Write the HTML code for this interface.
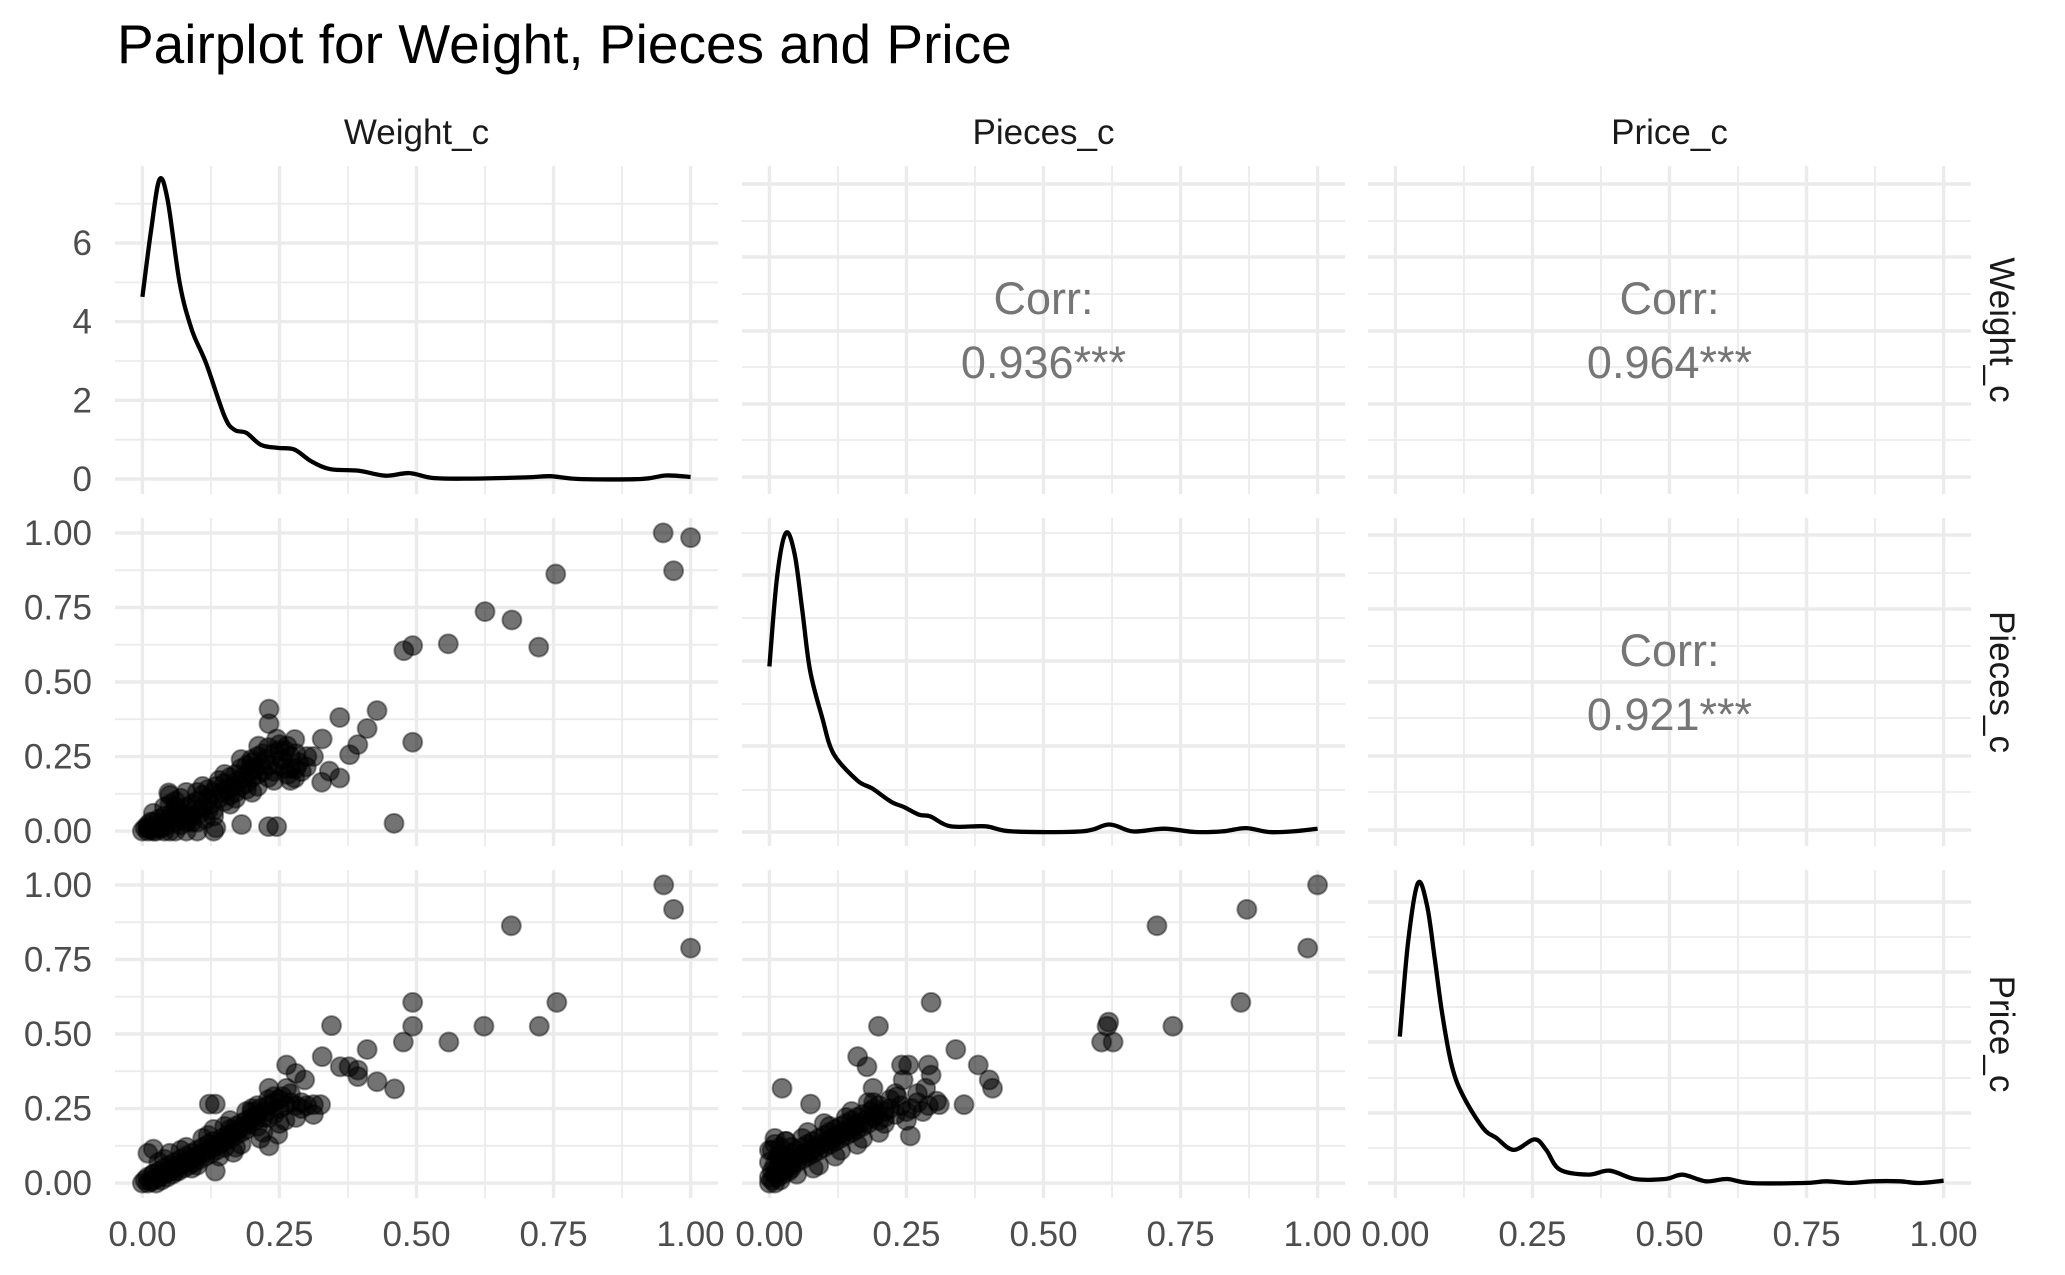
<!DOCTYPE html>
<html><head><meta charset="utf-8"><title>Pairplot</title>
<style>
html,body{margin:0;padding:0;background:#fff;}
svg{display:block;font-family:"Liberation Sans",Arial,sans-serif;}
</style></head>
<body>
<svg id="chart" width="2065" height="1275" viewBox="0 0 2065 1275" xmlns="http://www.w3.org/2000/svg">
<rect width="2065" height="1275" fill="#fff"/>
<text x="117" y="63" font-size="55" fill="#000">Pairplot for Weight, Pieces and Price</text>
<g id="grid"></g>
<g id="marks"></g>
<g id="labels"></g>
</svg>
<script>
// ---- data ----
const varNames = ["Weight_c", "Pieces_c", "Price_c"];
const xTickLabels = ["0.00", "0.25", "0.50", "0.75", "1.00"];
const xTickValues = [0, 0.25, 0.5, 0.75, 1];
const densTickLabels = ["0", "2", "4", "6"];
const densTickValues = [0, 2, 4, 6];
const corrValues = ["0.936***", "0.964***", "0.921***"];

const weightDensX = [0,0.016,0.031,0.046,0.068,0.09,0.116,0.15,0.168,0.19,0.216,0.247,0.277,0.308,0.343,0.395,0.443,0.487,0.53,0.596,0.70,0.744,0.796,0.91,0.955,1.0];
const weightDensY = [4.63,6.34,7.61,7.1,4.98,3.8,2.95,1.59,1.25,1.17,0.87,0.79,0.75,0.45,0.25,0.21,0.085,0.15,0.025,0.01,0.04,0.07,0,0,0.09,0.05];
const piecesDensX = [0,0.014,0.030,0.046,0.060,0.074,0.096,0.117,0.16,0.188,0.223,0.245,0.273,0.294,0.33,0.394,0.443,0.57,0.62,0.663,0.72,0.777,0.826,0.869,0.911,0.954,1.0];
const piecesDensY = [0.554,0.853,1.0,0.93,0.741,0.541,0.385,0.262,0.173,0.145,0.10,0.084,0.058,0.052,0.019,0.019,0.002,0.002,0.025,0.002,0.011,0,0.002,0.013,0,0.002,0.011];
const priceDensX = [0.008,0.023,0.041,0.058,0.072,0.086,0.103,0.124,0.16,0.184,0.216,0.254,0.275,0.300,0.352,0.391,0.437,0.492,0.524,0.566,0.605,0.647,0.745,0.787,0.829,0.871,0.92,0.955,1.0];
const priceDensY = [2.08,3.41,4.26,3.93,3.17,2.37,1.66,1.23,0.78,0.64,0.47,0.62,0.47,0.19,0.12,0.175,0.057,0.057,0.118,0.024,0.057,0,0,0.024,0,0.024,0.024,0,0.033];

const wpWeight = [0.950,1.00,0.969,0.754,0.625,0.674,0.723,0.558,0.493,0.477,0.493,0.459,0.428,0.410,0.393,0.378,0.360,0.360,0.341,0.327,0.328,0.231,0.231,0.245,0.245,0.230,0.181,0.278,0.264,0.312,0.299,0.278,0.212,0.199,0.134,0.048,
0.00,0.005,0.01,0.01,0.015,0.02,0.02,0.025,0.03,0.03,0.035,0.04,0.04,0.045,0.05,0.05,0.055,0.06,0.06,0.065,0.07,0.07,0.075,0.08,0.08,0.085,0.09,0.09,0.095,0.10,0.10,0.105,0.11,0.11,0.115,0.12,0.12,0.125,0.13,0.13,0.135,0.14,0.145,0.15,0.15,0.155,0.16,0.16,0.165,0.17,0.17,0.175,0.18,0.18,0.185,0.19,0.19,0.195,0.20,0.20,0.205,0.21,0.21,0.215,0.22,0.225,0.23,0.23,0.24,0.24,0.25,0.25,0.255,0.26,0.265,0.27,0.27,0.28,0.285,0.29,0.13,0.08,0.05,0.06,0.04,0.02,0.10,0.06,0.04,0.02,0.01,0.03,0.015,
0.05,0.07,0.09,0.12,0.14,0.16,0.18,0.2,0.22,0.24,0.26,0.28,0.3,0.11,0.13,0.17,0.19,0.21,0.23,0.08,0.06,0.1,0.15,0.25,0.27];
const wpPieces = [1.00,0.984,0.873,0.862,0.736,0.708,0.617,0.628,0.622,0.605,0.298,0.026,0.404,0.344,0.290,0.256,0.381,0.178,0.201,0.164,0.309,0.409,0.360,0.309,0.015,0.015,0.022,0.307,0.285,0.250,0.215,0.178,0.285,0.240,0.011,0.128,
0.00,0.01,0.0,0.02,0.005,0.01,0.03,0.0,0.02,0.04,0.01,0.03,0.05,0.02,0.04,0.0,0.06,0.03,0.05,0.07,0.02,0.06,0.04,0.08,0.0,0.05,0.09,0.03,0.07,0.10,0.0,0.06,0.12,0.08,0.04,0.11,0.14,0.09,0.13,0.07,0.15,0.11,0.13,0.16,0.10,0.14,0.18,0.12,0.15,0.19,0.13,0.17,0.21,0.15,0.18,0.22,0.16,0.20,0.23,0.18,0.21,0.25,0.19,0.22,0.20,0.24,0.28,0.22,0.26,0.20,0.29,0.22,0.24,0.21,0.19,0.25,0.17,0.21,0.23,0.20,0.0,0.13,0.12,0.10,0.08,0.06,0.03,0.0,0.0,0.0,0.01,0.01,0.03,
0.09,0.11,0.05,0.07,0.17,0.09,0.24,0.13,0.26,0.17,0.27,0.26,0.25,0.15,0.05,0.11,0.14,0.15,0.18,0.03,0.08,0.13,0.19,0.27,0.21];

const wrWeight = [0.951,0.969,1.00,0.673,0.493,0.756,0.493,0.623,0.724,0.345,0.476,0.559,0.410,0.328,0.361,0.377,0.393,0.393,0.428,0.460,0.263,0.280,0.296,0.231,0.263,0.122,0.133,0.312,0.325,0.312,0.231,0.247,0.215,0.166,0.133,0.02,
0.0,0.005,0.01,0.01,0.015,0.02,0.02,0.025,0.03,0.03,0.035,0.04,0.04,0.045,0.05,0.05,0.055,0.06,0.06,0.065,0.07,0.07,0.075,0.08,0.08,0.085,0.09,0.09,0.095,0.10,0.10,0.105,0.11,0.11,0.115,0.12,0.12,0.125,0.13,0.13,0.135,0.14,0.145,0.15,0.15,0.155,0.16,0.16,0.165,0.17,0.17,0.175,0.18,0.18,0.185,0.19,0.19,0.195,0.20,0.20,0.205,0.21,0.21,0.215,0.22,0.225,0.23,0.23,0.24,0.24,0.25,0.25,0.26,0.27,0.28,0.29,0.30,0.255,0.27,0.29,0.01,0.02,0.03,
0.04,0.06,0.08,0.1,0.12,0.14,0.16,0.18,0.2,0.22,0.24,0.26,0.28,0.05,0.09,0.13,0.17,0.21,0.25,0.11,0.15,0.19,0.23,0.03,0.07];
const wrPrice = [1.00,0.918,0.788,0.863,0.606,0.606,0.526,0.526,0.526,0.528,0.473,0.473,0.448,0.424,0.390,0.390,0.379,0.357,0.340,0.316,0.396,0.368,0.346,0.318,0.318,0.265,0.265,0.263,0.263,0.230,0.125,0.164,0.150,0.103,0.040,0.114,
0.0,0.01,0.0,0.02,0.005,0.01,0.03,0.0,0.02,0.04,0.01,0.03,0.05,0.02,0.04,0.06,0.03,0.05,0.07,0.04,0.06,0.08,0.05,0.07,0.09,0.06,0.08,0.10,0.07,0.09,0.11,0.08,0.10,0.12,0.09,0.11,0.13,0.10,0.12,0.14,0.11,0.13,0.15,0.14,0.12,0.16,0.15,0.18,0.17,0.19,0.16,0.18,0.20,0.17,0.19,0.21,0.18,0.20,0.22,0.24,0.21,0.23,0.19,0.25,0.22,0.24,0.26,0.22,0.27,0.23,0.28,0.25,0.26,0.27,0.26,0.27,0.26,0.29,0.30,0.25,0.10,0.03,0.02,
0.08,0.04,0.12,0.06,0.16,0.09,0.21,0.13,0.25,0.17,0.29,0.21,0.22,0.10,0.05,0.18,0.12,0.26,0.20,0.15,0.19,0.24,0.28,0.07,0.11];

const prPieces = [1.0,0.871,0.982,0.707,0.860,0.736,0.616,0.619,0.606,0.627,0.295,0.199,0.340,0.161,0.178,0.241,0.254,0.290,0.381,0.295,0.401,0.407,0.244,0.189,0.285,0.023,0.355,0.310,0.305,0.257,0.075,0.233,0.270,
0.0,0.0,0.005,0.005,0.01,0.01,0.01,0.015,0.015,0.02,0.02,0.02,0.025,0.025,0.03,0.03,0.035,0.035,0.04,0.04,0.045,0.05,0.05,0.055,0.06,0.06,0.065,0.07,0.07,0.075,0.08,0.08,0.085,0.09,0.09,0.095,0.10,0.10,0.105,0.11,0.11,0.115,0.12,0.12,0.125,0.13,0.13,0.135,0.14,0.14,0.145,0.15,0.15,0.155,0.16,0.16,0.165,0.17,0.17,0.175,0.18,0.185,0.19,0.19,0.195,0.20,0.20,0.21,0.21,0.22,0.23,0.24,0.25,0.26,0.27,0.28,0.29,0.0,0.005,0.01,0.015,0.02,0.03,0.04,
0.02,0.04,0.06,0.08,0.1,0.12,0.14,0.16,0.18,0.2,0.22,0.03,0.05,0.07,0.09,0.11,0.13,0.15,0.17,0.19,0.21,0.23,0.25,0.01,0.0];
const prPrice = [1.0,0.918,0.788,0.863,0.606,0.526,0.526,0.540,0.473,0.473,0.606,0.526,0.448,0.424,0.390,0.396,0.396,0.396,0.396,0.362,0.346,0.318,0.346,0.318,0.318,0.318,0.263,0.263,0.275,0.158,0.265,0.29,0.30,
0.0,0.02,0.01,0.04,0.0,0.03,0.06,0.02,0.05,0.01,0.04,0.08,0.03,0.06,0.05,0.09,0.04,0.07,0.06,0.10,0.08,0.07,0.11,0.09,0.08,0.12,0.10,0.09,0.13,0.11,0.10,0.14,0.12,0.11,0.15,0.13,0.12,0.16,0.14,0.13,0.17,0.15,0.14,0.18,0.16,0.15,0.19,0.17,0.16,0.20,0.18,0.17,0.21,0.19,0.18,0.22,0.20,0.19,0.23,0.21,0.20,0.24,0.22,0.25,0.23,0.21,0.26,0.24,0.22,0.25,0.23,0.26,0.24,0.25,0.27,0.24,0.26,0.07,0.11,0.13,0.09,0.12,0.14,0.05,
0.09,0.12,0.15,0.05,0.20,0.09,0.22,0.13,0.27,0.17,0.28,0.14,0.03,0.17,0.06,0.19,0.11,0.24,0.15,0.27,0.20,0.30,0.21,0.15,0.11];

// ---- layout ----
const NS = "http://www.w3.org/2000/svg";
const gGrid = document.getElementById("grid");
const gMarks = document.getElementById("marks");
const gLabels = document.getElementById("labels");
const colLeft = [115, 742, 1368];
const panelW = 603;
const rowTop = [166, 518, 870];
const panelH = 328;

function xScale(c, v) { return colLeft[c] + panelW * (v + 0.05) / 1.1; }
function unitY(r, v) { const y0 = rowTop[r] + panelH - panelH * 0.05 / 1.1; return y0 - v * panelH / 1.1; }
function dens1Y(v) { return 479 - v * 39.33; }
function dens2Y(v) { return 832 - v * 299; }
function dens3Y(v) { return 1183 - v * 70.4; }

function el(tag, attrs, parent) {
  const e = document.createElementNS(NS, tag);
  for (const k in attrs) e.setAttribute(k, attrs[k]);
  parent.appendChild(e);
  return e;
}

const hGrid = [
  [[dens1Y(0),dens1Y(2),dens1Y(4),dens1Y(6)],[dens1Y(1),dens1Y(3),dens1Y(5),dens1Y(7)]],
  [[184,257,331,404,477],[221,294,367,440]],
  [[184,257,331,404,477],[221,294,367,440]],
  [[0,0.25,0.5,0.75,1].map(v=>unitY(1,v)),[0.125,0.375,0.625,0.875].map(v=>unitY(1,v))],
  [[832,746,661,575],[790,704,618,533]],
  [[535,609,682,756,830],[573,646,718,792]],
  [[0,0.25,0.5,0.75,1].map(v=>unitY(2,v)),[0.125,0.375,0.625,0.875].map(v=>unitY(2,v))],
  [[0,0.25,0.5,0.75,1].map(v=>unitY(2,v)),[0.125,0.375,0.625,0.875].map(v=>unitY(2,v))],
  [[1183,1113,1042,972,902],[1148,1078,1007,937]]
];
for (let r = 0; r < 3; r++) {
  for (let c = 0; c < 3; c++) {
    const g = el("g", {}, gGrid);
    
    
    const L = colLeft[c], R = L + panelW, T = rowTop[r], B = T + panelH;
    const hg = hGrid[r * 3 + c];
    hg[1].forEach(y => el("line", {x1:L,x2:R,y1:y,y2:y,stroke:"#ebebeb","stroke-width":1.8}, g));
    [0.125,0.375,0.625,0.875].forEach(v => { const x = xScale(c, v); el("line", {x1:x,x2:x,y1:T,y2:B,stroke:"#ebebeb","stroke-width":1.8}, g); });
    hg[0].forEach(y => el("line", {x1:L,x2:R,y1:y,y2:y,stroke:"#ebebeb","stroke-width":3.4}, g));
    xTickValues.forEach(v => { const x = xScale(c, v); el("line", {x1:x,x2:x,y1:T,y2:B,stroke:"#ebebeb","stroke-width":3.4}, g); });
  }
}

function smoothPath(pts) {
  let d = "M" + pts[0][0].toFixed(1) + "," + pts[0][1].toFixed(1);
  for (let i = 0; i < pts.length - 1; i++) {
    const p0 = pts[Math.max(0, i - 1)], p1 = pts[i], p2 = pts[i + 1], p3 = pts[Math.min(pts.length - 1, i + 2)];
    const c1x = p1[0] + (p2[0] - p0[0]) / 6, c1y = p1[1] + (p2[1] - p0[1]) / 6;
    const c2x = p2[0] - (p3[0] - p1[0]) / 6, c2y = p2[1] - (p3[1] - p1[1]) / 6;
    d += " C" + c1x.toFixed(1) + "," + c1y.toFixed(1) + " " + c2x.toFixed(1) + "," + c2y.toFixed(1) + " " + p2[0].toFixed(1) + "," + p2[1].toFixed(1);
  }
  return d;
}
function drawDensity(xs, ys, c, yf, name) {
  const pts = xs.map((x, i) => [xScale(c, x), yf(ys[i])]);
  const p = el("path", {d: smoothPath(pts), fill: "none", stroke: "#000", "stroke-width": 4.3, "stroke-linejoin": "round"}, gMarks);
  
  
}
drawDensity(weightDensX, weightDensY, 0, dens1Y, "density-weight");
drawDensity(piecesDensX, piecesDensY, 1, dens2Y, "density-pieces");
drawDensity(priceDensX, priceDensY, 2, dens3Y, "density-price");

function drawScatter(xs, ys, c, r, name) {
  const g = el("g", {}, gMarks);
  
  
  xs.forEach((x, i) => {
    const pt = el("circle", {cx: xScale(c, x), cy: unitY(r, ys[i]), r: 9.5, fill: "rgba(0,0,0,0.55)", stroke: "rgba(0,0,0,0.4)", "stroke-width": 2}, g);
    
    
  });
}
drawScatter(wpWeight, wpPieces, 0, 1, "scatter-weight-pieces");
drawScatter(wrWeight, wrPrice, 0, 2, "scatter-weight-price");
drawScatter(prPieces, prPrice, 1, 2, "scatter-pieces-price");

const corrPos = [[0,1],[0,2],[1,2]];
corrPos.forEach((rc, i) => {
  const cx = colLeft[rc[1]] + panelW / 2, cy = rowTop[rc[0]] + panelH / 2;
  const t1 = el("text", {x: cx, y: cy - 16, "text-anchor": "middle", "font-size": 45, fill: "#767676"}, gLabels);
  t1.textContent = "Corr:";
  
  
  const t2 = el("text", {x: cx, y: cy + 48, "text-anchor": "middle", "font-size": 45, fill: "#767676"}, gLabels);
  t2.textContent = corrValues[i];
  
  
});

varNames.forEach((n, c) => {
  const t = el("text", {x: colLeft[c] + panelW / 2, y: 144, "text-anchor": "middle", "font-size": 35, fill: "#1a1a1a"}, gLabels);
  t.textContent = n;
  
  
  const cy = rowTop[c] + panelH / 2;
  const t2 = el("text", {x: 0, y: 0, "text-anchor": "middle", "font-size": 35, fill: "#1a1a1a", transform: "translate(1990," + cy + ") rotate(90)"}, gLabels);
  t2.textContent = n;
  
  
});

densTickValues.forEach((v, i) => {
  const t = el("text", {x: 92, y: dens1Y(v) + 12, "text-anchor": "end", "font-size": 35, fill: "#4d4d4d"}, gLabels);
  t.textContent = densTickLabels[i];
  
  
});
[1, 2].forEach(r => {
  xTickValues.forEach((v, i) => {
    const t = el("text", {x: 92, y: unitY(r, v) + 12, "text-anchor": "end", "font-size": 35, fill: "#4d4d4d"}, gLabels);
    t.textContent = xTickLabels[i];
    
    
  });
});
[0, 1, 2].forEach(c => {
  xTickValues.forEach((v, i) => {
    const t = el("text", {x: xScale(c, v), y: 1246, "text-anchor": "middle", "font-size": 35, fill: "#4d4d4d"}, gLabels);
    t.textContent = xTickLabels[i];
    
    
  });
});
</script>
</body></html>
